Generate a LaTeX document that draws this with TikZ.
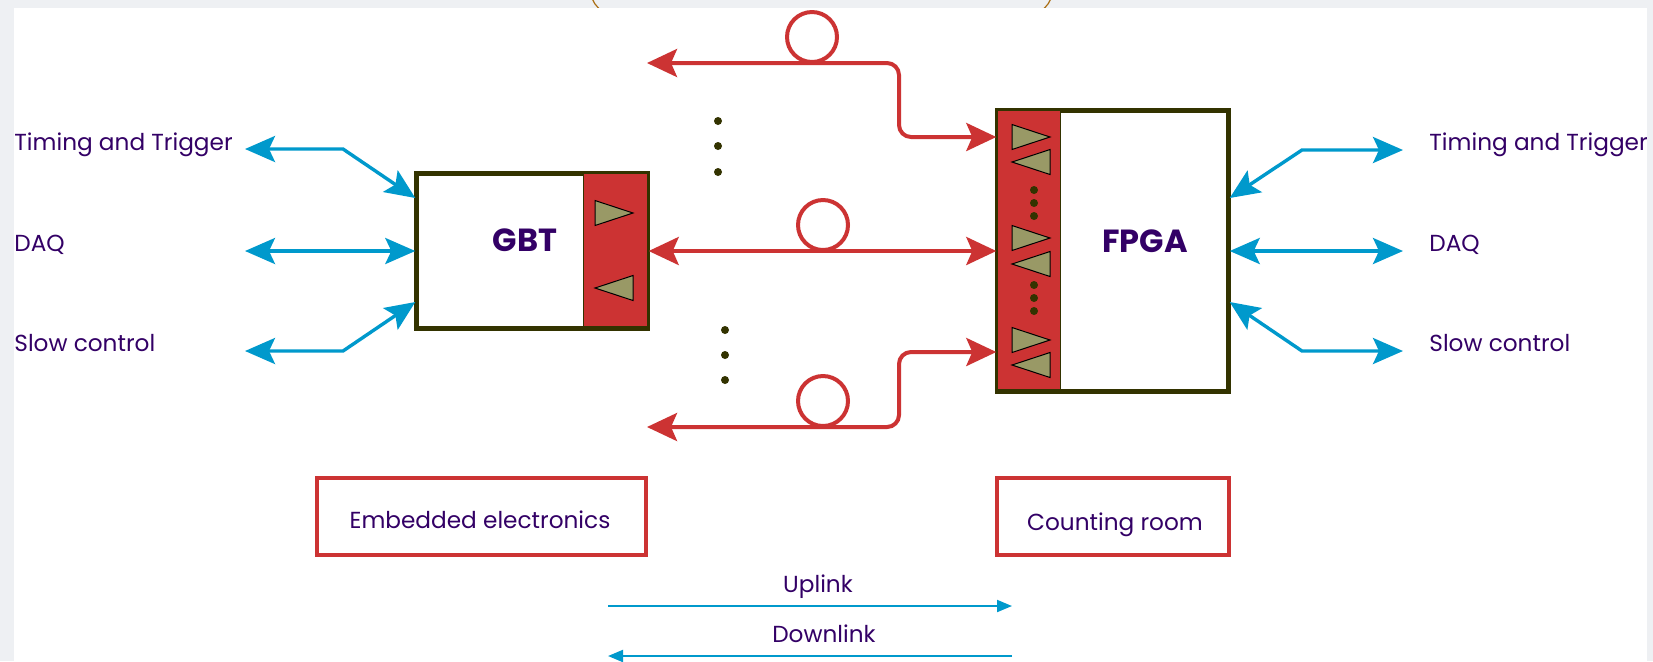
\documentclass[tikz,border=0pt]{standalone}
\usepackage{fontspec}
\setmainfont{Poppins}
\usetikzlibrary{arrows.meta}
\definecolor{fibred}{RGB}{204,51,51}
\definecolor{busblue}{RGB}{0,153,204}
\definecolor{ink}{RGB}{51,0,102}
\definecolor{frameol}{RGB}{51,51,0}
\definecolor{khaki}{RGB}{153,153,102}
\definecolor{slide}{RGB}{238,240,243}
\definecolor{rim}{RGB}{170,110,20}
\begin{document}
\begin{tikzpicture}[x=0.5pt,y=-0.5pt,
  fibtip/.tip={Stealth[length=15pt,width=14pt,inset=3pt]},
  bustip/.tip={Stealth[length=15pt,width=13pt,inset=3pt]},
  lbl/.style={font=\fontsize{11.6}{14}\selectfont,text=ink,inner sep=0pt},
  chip/.style={font=\fontsize{16}{19}\selectfont\bfseries,text=ink,inner sep=0pt},
  blk/.style={draw=frameol,line width=1.7pt,fill=white,inner sep=0pt,minimum width=115pt},
  port/.style={draw=frameol,line width=0.4pt,fill=fibred,inner sep=0pt},
  tri/.style={draw=black,line width=0.5pt,fill=khaki},
  pip/.style={circle,fill=frameol,inner sep=0pt,minimum size=4pt},
  fib/.style={draw=fibred,line width=2pt,rounded corners=6pt,fibtip-fibtip},
  spool/.style={circle,draw=fibred,line width=2pt,minimum size=25pt,inner sep=0pt},
  bus/.style={draw=busblue,line width=1.7pt,bustip-bustip},
  room/.style={draw=fibred,line width=2.3pt,inner sep=0pt,minimum height=38.5pt},
  dirn/.style={draw=busblue,line width=1pt}]
 \useasboundingbox (0,0) rectangle (1653,661);
 % slide background
 \fill[slide] (0,0) rectangle (1653,661);
 \draw[rim,line width=0.6pt,rounded corners=14pt] (590,-40) rectangle (1053,16);
 \fill[white] (14,8) rectangle (1647,661);
 % GBT side
 \node[blk,minimum height=77pt] (gbt) at (532,251) {};
 \node[port,minimum width=32.5pt,minimum height=77pt,anchor=north east] (gbtp) at (gbt.north east) {};
 \draw[frameol,line width=1.7pt] (gbt.north west) rectangle (gbt.south east);
 \node[chip,anchor=base] (gbtname) at (525,251) {GBT};
 \draw[tri] (595,200.5) -- (633,213) -- (595,225.5) -- cycle;
 \draw[tri] (633,275.5) -- (595,288) -- (633,300.5) -- cycle;
 % FPGA side
 \node[blk,minimum height=140pt] (fpga) at (1113,251) {};
 \node[port,minimum width=32pt,minimum height=140pt,anchor=north west] (fpgap) at (fpga.north west) {};
 \draw[frameol,line width=1.7pt] (fpga.north west) rectangle (fpga.south east);
 \node[chip,anchor=base] (fpganame) at (1145,252) {FPGA};
 \foreach \y in {137,238,340}
   \draw[tri] (1012,\y-12.5) -- (1050,\y) -- (1012,\y+12.5) -- cycle;
 \foreach \y in {162,264,365}
   \draw[tri] (1050,\y-12.5) -- (1012,\y) -- (1050,\y+12.5) -- cycle;
 \foreach \y in {190,203,216,285,298,311}
   \node[pip] (p\y) at (1034,\y) {};
 % fibres
 \coordinate (t1) at (647,63);
 \coordinate (k1) at (899,137);
 \coordinate (t3) at (647,427);
 \coordinate (k3) at (899,352);
 \draw[fib] (t1) -- (t1 -| k1) -- (k1) -- (fpga.west |- k1);
 \draw[fib] (gbt.east) -- (fpga.west);
 \draw[fib] (t3) -- (t3 -| k3) -- (k3) -- (fpga.west |- k3);
 \node[spool] (s1) at (812,37) {};
 \node[spool] (s2) at (823,225) {};
 \node[spool] (s3) at (823,401) {};
 \foreach \y in {121,146,172}
   \node[pip] (u\y) at (718,\y) {};
 \foreach \y in {330,355,380}
   \node[pip] (w\y) at (725,\y) {};
 % left links
 \node[lbl,anchor=base west] (ltt) at (14,150) {Timing and Trigger};
 \node[lbl,anchor=base west] (ldaq) at (14,251) {DAQ};
 \node[lbl,anchor=base west] (lsc) at (14,351) {Slow control};
 \coordinate (la) at (245,149);
 \coordinate (lb) at (245,251);
 \coordinate (lc) at (245,351);
 \draw[bus] (la) -- (343,149) -- (gbt.west |- 0,198);
 \draw[bus] (lb) -- (gbt.west);
 \draw[bus] (lc) -- (343,351) -- (gbt.west |- 0,302);
 % right links
 \node[lbl,anchor=base west] (rtt) at (1429,150) {Timing and Trigger};
 \node[lbl,anchor=base west] (rdaq) at (1429,251) {DAQ};
 \node[lbl,anchor=base west] (rsc) at (1429,351) {Slow control};
 \coordinate (ra) at (1403,150);
 \coordinate (rb) at (1403,251);
 \coordinate (rc) at (1403,351);
 \draw[bus] (ra) -- (1302,150) -- (fpga.east |- 0,198);
 \draw[bus] (rb) -- (fpga.east);
 \draw[bus] (rc) -- (1302,351) -- (fpga.east |- 0,302);
 % locations
 \node[room,minimum width=164.5pt] (emb) at (481.5,516.5) {};
 \node[lbl,anchor=base] (embt) at (480,528) {Embedded electronics};
 \node[room,minimum width=116pt] (cnt) at (1113,516.5) {};
 \node[lbl,anchor=base] (cntt) at (1115,530) {Counting room};
 % legend
 \node[lbl,anchor=base] (up) at (818,592) {Uplink};
 \node[lbl,anchor=base] (down) at (824,642) {Downlink};
 \coordinate (ua) at (608,606);
 \coordinate (ub) at (1012,606);
 \coordinate (da) at (1012,656);
 \coordinate (db) at (608,656);
 \draw[dirn,-{Triangle[length=7.5pt,width=6pt]}] (ua) -- (ub);
 \draw[dirn,-{Triangle[length=7.5pt,width=6pt]}] (da) -- (db);
\end{tikzpicture}
\end{document}
